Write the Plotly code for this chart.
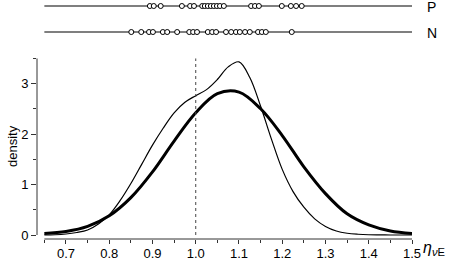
import plotly.graph_objects as go

# density curves
x_thin = [0.650, 0.675, 0.700, 0.725, 0.750, 0.775, 0.800, 0.825, 0.850, 0.875,
          0.900, 0.925, 0.950, 0.975, 1.000, 1.025, 1.050, 1.075, 1.100, 1.125,
          1.150, 1.175, 1.200, 1.225, 1.250, 1.275, 1.300, 1.325, 1.350, 1.375,
          1.400, 1.425, 1.450, 1.475, 1.500]
y_thin = [0.00, 0.005, 0.02, 0.05, 0.10, 0.22, 0.40, 0.68, 1.02, 1.40,
          1.78, 2.12, 2.42, 2.63, 2.76, 2.88, 3.08, 3.33, 3.43, 3.12,
          2.55, 1.90, 1.30, 0.86, 0.55, 0.32, 0.17, 0.08, 0.035, 0.015,
          0.005, 0.002, 0.0, 0.0, 0.0]

x_thick = [0.65, 0.70, 0.75, 0.80, 0.85, 0.90, 0.95, 1.00, 1.05, 1.10,
           1.15, 1.20, 1.25, 1.30, 1.35, 1.40, 1.45, 1.50]
y_thick = [0.03, 0.07, 0.17, 0.38, 0.74, 1.25, 1.86, 2.42, 2.80, 2.83,
           2.50, 1.97, 1.35, 0.82, 0.42, 0.20, 0.08, 0.03]

# individual values shown as rug strips
p_vals = [0.894, 0.903, 0.919, 0.968, 0.987, 0.996, 1.015, 1.021, 1.028, 1.035,
          1.042, 1.049, 1.056, 1.065, 1.128, 1.137, 1.146, 1.199, 1.220, 1.232, 1.245]
n_vals = [0.851, 0.874, 0.892, 0.901, 0.924, 0.934, 0.957, 0.985, 0.994, 1.003,
          1.028, 1.038, 1.047, 1.070, 1.082, 1.093, 1.102, 1.114, 1.125, 1.144,
          1.153, 1.162, 1.222]

x_ticks = [0.7, 0.8, 0.9, 1.0, 1.1, 1.2, 1.3, 1.4, 1.5]
y_ticks = [0, 1, 2, 3]

FONT = "Liberation Sans, Arial, sans-serif"
AX = "#333333"

W, H = 454, 261
L, R, T, B = 37, 42, 2, 22

fig = go.Figure()

fig.add_trace(go.Scatter(x=x_thin, y=y_thin, mode="lines", line_shape="spline",
                         line=dict(color="black", width=1.2), hoverinfo="skip"))
fig.add_trace(go.Scatter(x=x_thick, y=y_thick, mode="lines", line_shape="spline",
                         line=dict(color="black", width=3), hoverinfo="skip"))

# rug strips
for vals, lvl in [(p_vals, 1), (n_vals, 0)]:
    fig.add_trace(go.Scatter(x=[0.65, 1.5], y=[lvl, lvl], mode="lines", yaxis="y2",
                             line=dict(color="black", width=1.2), hoverinfo="skip"))
    fig.add_trace(go.Scatter(x=vals, y=[lvl] * len(vals), mode="markers", yaxis="y2",
                             marker=dict(symbol="circle", size=5, color="white",
                                         line=dict(color="black", width=1)),
                             hoverinfo="skip"))

# dotted reference line at 1.0
fig.add_shape(type="line", x0=1.0, x1=1.0, y0=0, y1=3.5, xref="x", yref="y",
              line=dict(color="#444444", width=1, dash="dot"))
# axis lines like R's axis()
fig.add_shape(type="line", x0=0.65, x1=1.5, y0=0, y1=0, xref="x", yref="y domain",
              line=dict(color=AX, width=1))
fig.add_shape(type="line", x0=0, x1=0, y0=0, y1=3.5, xref="x domain", yref="y",
              line=dict(color=AX, width=1))


def px(x, y):
    # pixel position -> paper fraction
    return (x - L) / (W - L - R), 1 - (y - T) / (H - T - B)


annots = []
for text, x, y, size, anchor in [
    ("density", 12, 146, 13, "center"),
    ("<i>η</i><sub><i>ν</i>E</sub>", 421, 248, 16, "left"),
    ("P", 432, 7, 14, "center"),
    ("N", 432, 33, 14, "center"),
]:
    ax_, ay_ = px(x, y)
    annots.append(dict(text=text, x=ax_, y=ay_, xref="paper", yref="paper",
                       showarrow=False, xanchor=anchor, yanchor="middle",
                       textangle=-90 if text == "density" else 0,
                       font=dict(size=size)))

fig.update_layout(
    width=W, height=H,
    margin=dict(l=L, r=R, t=T, b=B),
    paper_bgcolor="white", plot_bgcolor="white",
    showlegend=False,
    font=dict(family=FONT, size=13, color="black"),
    xaxis=dict(range=[0.633, 1.5], showgrid=False, zeroline=False, showline=False,
               tickvals=x_ticks, ticktext=["%.1f" % v for v in x_ticks],
               ticks="outside", ticklen=4, tickcolor=AX, tickwidth=1,
               ticklabelstandoff=-2,
               minor=dict(dtick=0.05, tick0=0.65, ticks="outside", ticklen=3,
                          tickcolor=AX, tickwidth=1),
               automargin=False, fixedrange=True),
    yaxis=dict(domain=[0, 0.7624], range=[-0.079, 3.5], showgrid=False,
               zeroline=False, showline=False, tickvals=y_ticks,
               ticks="outside", ticklen=5, tickcolor=AX, tickwidth=1,
               minor=dict(dtick=0.5, tick0=0, ticks="outside", ticklen=3,
                          tickcolor=AX, tickwidth=1),
               automargin=False, fixedrange=True),
    yaxis2=dict(domain=[0.775, 1], range=[-0.896, 1.154], visible=False,
                anchor="x", fixedrange=True),
    annotations=annots,
)

# the page's default body margin would shift the figure by 8px
fig.write_html("out.html", config={"displayModeBar": False},
               post_script="document.body.style.margin='0';")
